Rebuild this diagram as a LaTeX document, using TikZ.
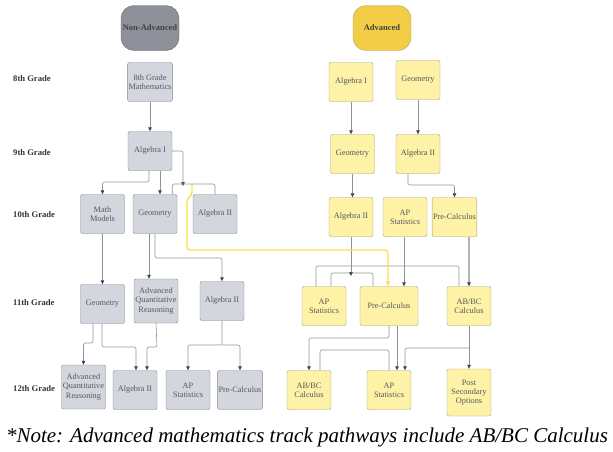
\documentclass[tikz,border=0pt]{standalone}
\usepackage{fontspec}
\setmainfont{Liberation Serif}
\usepackage{tikz}
\usetikzlibrary{arrows.meta, positioning}

\definecolor{nafill}{HTML}{D3D6DC}
\definecolor{nadraw}{HTML}{7F838A}
\definecolor{adfill}{HTML}{FDF2A6}
\definecolor{addraw}{HTML}{A59E80}
\definecolor{napill}{HTML}{8E9199}
\definecolor{adpill}{HTML}{F3CD45}
\definecolor{linkc}{HTML}{8F9297}
\definecolor{tipc}{HTML}{3F4349}
\definecolor{pathc}{HTML}{F8DE4C}
\definecolor{boxtext}{HTML}{55585E}

\begin{document}
\begin{tikzpicture}[x=1pt, y=-1pt,
        box/.style={draw, rounded corners=2pt, minimum width=44pt, minimum height=39pt,
            align=center, inner sep=1pt, text=boxtext, font=\fontsize{8.3}{9.2}\selectfont},
        nabox/.style={box, fill=nafill, draw=nadraw},
        adbox/.style={box, fill=adfill, draw=addraw},
        pill/.style={draw, rounded corners=13pt, minimum width=58pt, minimum height=45pt,
            inner sep=0pt, font=\fontsize{8.5}{10}\selectfont\bfseries, text=black!75},
        grade/.style={anchor=west, inner sep=0pt, text=black!80, font=\fontsize{8.6}{9}\selectfont\bfseries},
        link/.style={draw=linkc, line width=0.6pt, rounded corners=2pt},
        arr/.style={link, -{Triangle[length=4pt, width=3.5pt, color=tipc]}}]
        \useasboundingbox (0,0) rectangle (613,451);

        % grade labels
        \node[grade] (g8) at (13,79) {8th Grade};
        \node[grade] (g9) at (13,153) {9th Grade};
        \node[grade] (g10) at (13,215) {10th Grade};
        \node[grade] (g11) at (13,303) {11th Grade};
        \node[grade] (g12) at (13,389) {12th Grade};

        % non-advanced track
        \node[pill, fill=napill, draw=black!60] (nahead) at (150,28) {Non-Advanced};
        \node[nabox] (n8) at (150,82) {8th Grade\\Mathematics};
        \node[nabox] (nalgI) at (150,151) {Algebra I};
        \node[nabox] (nmm) at (102.5,214) {Math\\Models};
        \node[nabox] (ngeo) at (155,214) {Geometry};
        \node[nabox] (nalgII) at (215,214) {Algebra II};
        \node[nabox] (ngeoB) at (102.5,304) {Geometry};
        \node[nabox, minimum height=44pt] (naqr) at (156,301) {Advanced\\Quantitative\\Reasoning};
        \node[nabox] (nalgIIB) at (222,301) {Algebra II};
        \node[nabox, minimum height=44pt] (naqrB) at (83.5,387) {Advanced\\Quantitative\\Reasoning};
        \node[nabox] (nalgIIC) at (135,390) {Algebra II};
        \node[nabox] (nap) at (188,390) {AP\\Statistics};
        \node[nabox] (npc) at (240,390) {Pre-Calculus};

        % advanced track
        \node[pill, fill=adpill, draw=addraw] (adhead) at (382,28) {Advanced};
        \node[adbox] (aalgI) at (351,82) {Algebra I};
        \node[adbox] (ageo) at (418,80) {Geometry};
        \node[adbox] (ageoB) at (352.5,154) {Geometry};
        \node[adbox] (aalgII) at (418,154) {Algebra II};
        \node[adbox] (aalgIIB) at (351,217) {Algebra II};
        \node[adbox] (aap) at (405,217) {AP\\Statistics};
        \node[adbox] (apc) at (454.5,217) {Pre-Calculus};
        \node[adbox] (aapB) at (324,306) {AP\\Statistics};
        \node[adbox, minimum width=58pt] (apcB) at (389,306) {Pre-Calculus};
        \node[adbox] (aab) at (469,306) {AB/BC\\Calculus};
        \node[adbox] (aabB) at (309,390) {AB/BC\\Calculus};
        \node[adbox] (aapC) at (389,390) {AP\\Statistics};
        \node[adbox, minimum height=47pt] (apso) at (469,392.5) {Post\\Secondary\\Options};

        % branch points
        \coordinate (nbar) at (183,184);
        \coordinate (abar) at (351,266);
        \coordinate (abarB) at (351,273);

        % non-advanced links
        \draw[arr] (n8) -- (nalgI);
        \draw[arr] (nalgI.south -| 149,0) -- (149,182) -| (nmm.north);
        \draw[arr] (nalgI.south -| 160,0) -- (ngeo.north -| 160,0);
        \draw[arr] (nalgI.east) -| ([yshift=-2pt]nbar);
        \draw[link] ([xshift=-5pt]ngeo.north east) |- (nbar) -| (nalgII.north);
        \draw[arr] (nmm) -- (ngeoB);
        \draw[arr] (ngeo.south -| 149,0) -- (naqr.north -| 149,0);
        \draw[arr] (ngeo.south) -- (155,258) -| (nalgIIB.north);
        \draw[arr] (ngeoB.south -| 93,0) -- (93,343) -| (naqrB.north);
        \draw[arr] (ngeoB.south -| 102,0) -- (102,347) -| (nalgIIC.north -| 136,0);
        \draw[arr] (naqr.south) -- (157,347) -| (nalgIIC.north -| 147,0);
        \draw[arr] (nalgIIB.south) -- (222,345) -| (nap.north);
        \draw[arr] (222,345) -| (npc.north);

        % advanced links
        \draw[arr] (aalgI) -- (ageoB.north -| aalgI);
        \draw[arr] (ageo) -- (aalgII);
        \draw[arr] (ageoB) -- (aalgIIB.north -| ageoB);
        \draw[arr] (aalgII.south -| 408,0) |- (454.5,185) -- (apc.north);
        \draw[link] (aapB.north -| 316,0) |- (abar) -| (aab.north -| 459,0);
        \draw[link] (aapB.north -| 331,0) |- (abarB) -| (apcB.north -| 373,0);
        \draw[arr] (aalgIIB.south) -- ([yshift=-3pt]abarB);
        \draw[arr] (aap.south -| 404,0) -- (apcB.north -| 404,0);
        \draw[arr, draw=linkc!70, line width=1.2pt] (apc.south -| aab) -- (aab.north);
        \draw[arr] (apcB.south) -- (389,338) -| (aabB.north);
        \draw[arr] (apcB.south -| 397,0) -- (aapC.north -| 397,0);
        \draw[link] (aabB.north -| 320,0) |- (389,350) -- (aapC.north);
        \draw[arr] (aab) -- (apso);
        \draw[arr] (469,348) -| (aapC.north -| 405,0);

        % highlighted pathway
        \draw[draw=pathc, line width=1.3pt, rounded corners=3pt,
            -{Triangle[length=5pt, width=4pt]}]
            (192,184) -- (192,195) -- (187,199) -- (187,250) -| (apcB.north -| 388,0);

        % note
        \node[font=\fontsize{21}{24}\selectfont\itshape] (note) at (307,437)
            {*Note: Advanced mathematics track pathways include AB/BC Calculus};
\end{tikzpicture}
\end{document}
